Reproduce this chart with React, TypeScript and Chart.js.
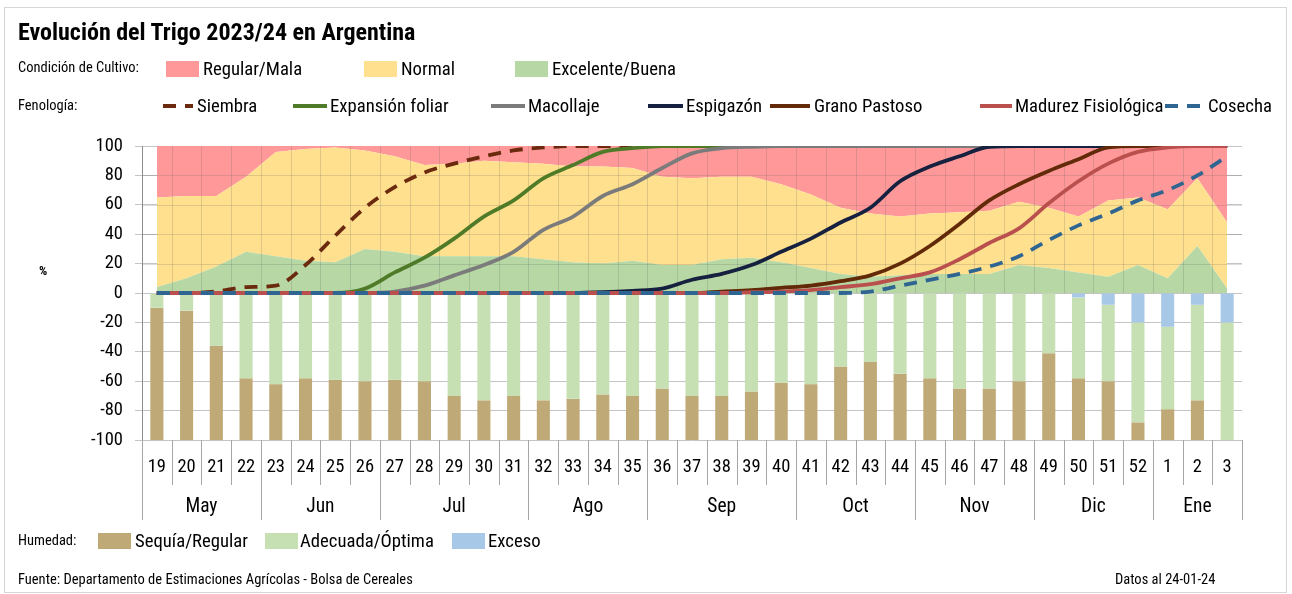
import React, { useEffect, useRef } from 'react';
import { Chart, registerables } from 'chart.js';
Chart.register(...registerables);

// ---------- DATA ----------
const weeks = ['19','20','21','22','23','24','25','26','27','28','29','30','31','32','33','34','35','36','37','38','39','40','41','42','43','44','45','46','47','48','49','50','51','52','1','2','3'];
const months = ['May','Jun','Jul','Ago','Sep','Oct','Nov','Dic','Ene'];
const monthSpans = [4,4,5,4,5,4,4,4,3];

// Condición de cultivo (%)
const excelenteBuena = [4,10,18,28,25,22,21,30,28,25,25,25,25,23,21,20,22,19,19,23,24,21,17,13,11,12,13,13,13,19,17,14,11,19,10,32,3];
const normal        = [61,56,48,51,71,76,78,67,65,62,63,65,64,65,65,66,63,60,59,56,55,53,50,45,43,40,41,42,43,43,41,38,52,46,47,46,45];
const regularMala   = [35,34,34,21,4,2,1,3,7,13,12,10,11,12,14,14,15,21,22,21,21,26,33,42,46,48,46,45,44,38,42,48,37,35,43,22,52];

// Fenología (% avance)
const siembra          = [0,0,1,4,5,19,39,58,72,82,88,93,97,99,100,100,100,100,100,100,100,100,100,100,100,100,100,100,100,100,100,100,100,100,100,100,100];
const expansionFoliar  = [0,0,0,0,0,0,0,3,14,24,37,52,63,78,87,96,98.5,100,100,100,100,100,100,100,100,100,100,100,100,100,100,100,100,100,100,100,100];
const macollaje        = [0,0,0,0,0,0,0,0,1,5,12,19,28,43,52,66,74,85,95,98.5,99.5,100,100,100,100,100,100,100,100,100,100,100,100,100,100,100,100];
const espigazon        = [0,0,0,0,0,0,0,0,0,0,0,0,0,0,0,0.5,1.5,3,9,13,19,28,37,48,58,76,86,93,99.5,100,100,100,100,100,100,100,100];
const granoPastoso     = [0,0,0,0,0,0,0,0,0,0,0,0,0,0,0,0,0,0,0,1,2,3.5,5,8,12,20,32,47,63,74,83,91,99,100,100,100,100];
const madurezFisiol    = [0,0,0,0,0,0,0,0,0,0,0,0,0,0,0,0,0,0,0,0,0.5,1,2,4,6,10,14,23,34,44,61,76,88,96,99,100,100];
const cosecha          = [0,0,0,0,0,0,0,0,0,0,0,0,0,0,0,0,0,0,0,0,0,0,0,0,1,5,9,13,18,25,36,46,54,63,70,80,93];

// Humedad (%)
const sequiaRegular  = [90,88,64,42,38,42,41,40,41,40,30,27,30,27,28,31,30,35,30,30,33,39,38,50,53,45,42,35,35,40,59,42,40,12,21,27,0];
const exceso         = [0,0,0,0,0,0,0,0,0,0,0,0,0,0,0,0,0,0,0,0,0,0,0,0,0,0,0,0,0,0,0,3,8,20,23,8,20];
const adecuadaOptima = sequiaRegular.map((s, i) => 100 - s - exceso[i]);

const yMin = -100;
const yMax = 100;
const yStep = 20;

// ---------- STYLE ----------
const FONT = "'Liberation Sans Narrow','Roboto Condensed',Roboto,'DejaVu Sans',sans-serif";
const C = {
  red: '#FF9999',
  yellow: '#FFE08E',
  green: '#B7D8A4',
  brown: '#BFAA77',
  lgreen: '#C6E0B4',
  blue: '#A8C8E8',
  siembra: '#6B2A0E',
  expansion: '#4F7B28',
  macollaje: '#7B7B7B',
  espigazon: '#16203F',
  grano: '#622A08',
  madurez: '#BA504E',
  cosecha: '#2E6591',
};

const Txt = ({ x, y, size, bold, children }: any) => (
  <div style={{ position: 'absolute', left: x, top: y, transform: 'translateY(-50%)', fontSize: size, fontWeight: bold ? 700 : 400, whiteSpace: 'nowrap', lineHeight: 1, fontFamily: FONT, color: '#000' }}>{children}</div>
);
const Swatch = ({ x, y, color }: any) => (
  <div style={{ position: 'absolute', left: x, top: y, width: 33, height: 16, background: color }} />
);
const LineSample = ({ x1, x2, y, color, dashed }: any) => (
  <svg style={{ position: 'absolute', left: x1, top: y - 4, overflow: 'visible' }} width={x2 - x1} height={8}>
    <line x1={0} y1={4} x2={x2 - x1} y2={4} stroke={color} strokeWidth={4} strokeDasharray={dashed ? '13 9' : undefined} />
  </svg>
);

const LEG = 18.7;
const SMALL = 14.5;

export default function App() {
  const ref = useRef<HTMLCanvasElement>(null);
  useEffect(() => {
    document.body.style.margin = '0';
    const n = weeks.length;

    const topGrid = {
      id: 'topGrid',
      afterDatasetDraw(chart: any, args: any) {
        if (args.index !== 0) return;
        const { ctx } = chart;
        const x = chart.scales.x, y = chart.scales.y;
        const y100 = y.getPixelForValue(100), y0 = y.getPixelForValue(0);
        const w = (x.right - x.left) / n;
        ctx.save();
        ctx.strokeStyle = 'rgba(90,90,90,0.2)';
        ctx.lineWidth = 1;
        ctx.beginPath();
        for (let i = 1; i < n; i++) {
          const px = Math.round(x.left + i * w) + 0.5;
          ctx.moveTo(px, y100); ctx.lineTo(px, y0);
        }
        for (let v = yStep; v < yMax; v += yStep) {
          const py = Math.round(y.getPixelForValue(v)) + 0.5;
          ctx.moveTo(x.left, py); ctx.lineTo(x.right, py);
        }
        ctx.stroke();
        ctx.restore();
      },
    };

    const xLabels = {
      id: 'xLabels',
      afterDraw(chart: any) {
        const { ctx } = chart;
        const x = chart.scales.x;
        const top = chart.chartArea.bottom;
        const w = (x.right - x.left) / n;
        const bounds = new Set<number>([0]);
        let cum = 0;
        monthSpans.forEach((s) => { cum += s; bounds.add(cum); });
        ctx.save();
        ctx.strokeStyle = '#a6a6a6';
        ctx.lineWidth = 1;
        ctx.beginPath();
        for (let i = 0; i <= n; i++) {
          const px = Math.round(x.left + i * w) + 0.5;
          ctx.moveTo(px, top);
          ctx.lineTo(px, top + (bounds.has(i) ? 80 : 45));
        }
        ctx.stroke();
        ctx.fillStyle = '#000';
        ctx.textAlign = 'center';
        ctx.textBaseline = 'middle';
        ctx.font = `18.5px ${FONT}`;
        weeks.forEach((wk, i) => ctx.fillText(wk, x.getPixelForValue(i), top + 27));
        ctx.font = `19.5px ${FONT}`;
        let start = 0;
        months.forEach((m, j) => {
          ctx.fillText(m, x.left + (start + monthSpans[j] / 2) * w, top + 67);
          start += monthSpans[j];
        });
        ctx.restore();
      },
    };

    const area = (label: string, data: number[], color: string, fill: any) => ({
      type: 'line', label, data, stack: 'cond', backgroundColor: color, borderColor: color,
      borderWidth: 0, pointRadius: 0, fill, tension: 0, order: 2,
    });
    const bar = (label: string, data: number[], color: string) => ({
      type: 'bar', label, data: data.map((v) => -v), stack: 'hum', backgroundColor: color,
      borderWidth: 0, barPercentage: 0.44, categoryPercentage: 1, order: 3,
    });
    const phen = (label: string, data: number[], color: string, i: number, dashed = false) => ({
      type: 'line', label, data, stack: 'l' + i, borderColor: color, backgroundColor: color,
      borderWidth: 3.8, borderDash: dashed ? [13, 9] : [], borderCapStyle: 'butt',
      pointRadius: 0, fill: false, cubicInterpolationMode: 'monotone', order: 1 - i * 0.01,
    });

    const chart = new Chart(ref.current as HTMLCanvasElement, {
      type: 'bar',
      data: {
        labels: weeks,
        datasets: [
          area('Excelente/Buena', excelenteBuena, C.green, 'origin'),
          area('Normal', normal, C.yellow, '-1'),
          area('Regular/Mala', regularMala, C.red, '-1'),
          bar('Exceso', exceso, C.blue),
          bar('Adecuada/Óptima', adecuadaOptima, C.lgreen),
          bar('Sequía/Regular', sequiaRegular, C.brown),
          phen('Siembra', siembra, C.siembra, 0, true),
          phen('Expansión foliar', expansionFoliar, C.expansion, 1),
          phen('Macollaje', macollaje, C.macollaje, 2),
          phen('Espigazón', espigazon, C.espigazon, 3),
          phen('Grano Pastoso', granoPastoso, C.grano, 4),
          phen('Madurez Fisiológica', madurezFisiol, C.madurez, 5),
          phen('Cosecha', cosecha, C.cosecha, 6, true),
        ] as any,
      },
      options: {
        responsive: false,
        animation: false,
        devicePixelRatio: 1,
        events: [],
        layout: { padding: { left: 0, top: 146, right: 50, bottom: 154 } },
        plugins: { legend: { display: false }, tooltip: { enabled: false } },
        scales: {
          x: {
            type: 'category', offset: true, stacked: true,
            grid: { display: false }, border: { display: false }, ticks: { display: false },
            afterFit: (s: any) => { s.height = 0; },
          },
          y: {
            stacked: true, min: yMin, max: yMax,
            ticks: { stepSize: yStep, color: '#000', font: { size: 18.5, family: FONT }, padding: 12 },
            grid: { color: '#c4c4c4', tickLength: 7 },
            border: { color: '#8c8c8c' },
            afterFit: (s: any) => { s.width = 142; },
          },
        } as any,
      },
      plugins: [topGrid, xLabels],
    } as any);
    return () => chart.destroy();
  }, []);

  return (
    <div style={{ position: 'relative', width: 1292, height: 594, background: '#fff', overflow: 'hidden', fontFamily: FONT }}>
      <div style={{ position: 'absolute', left: 4, top: 7, width: 1281, height: 584, border: '1px solid #d6d6d6' }} />
      <canvas ref={ref} width={1292} height={594} style={{ position: 'absolute', left: 0, top: 0, width: 1292, height: 594 }} />
      <Txt x={18} y={32} size={24} bold>Evolución del Trigo 2023/24 en Argentina</Txt>

      <Txt x={18} y={68} size={SMALL}>Condición de Cultivo:</Txt>
      <Swatch x={166} y={61} color={C.red} />
      <Txt x={203} y={69} size={LEG}>Regular/Mala</Txt>
      <Swatch x={364} y={61} color={C.yellow} />
      <Txt x={401} y={69} size={LEG}>Normal</Txt>
      <Swatch x={515} y={61} color={C.green} />
      <Txt x={552} y={69} size={LEG}>Excelente/Buena</Txt>

      <Txt x={18} y={106} size={SMALL}>Fenología:</Txt>
      <LineSample x1={163} x2={193} y={106} color={C.siembra} dashed />
      <Txt x={197} y={106} size={LEG}>Siembra</Txt>
      <LineSample x1={293} x2={327} y={106} color={C.expansion} />
      <Txt x={330} y={106} size={LEG}>Expansión foliar</Txt>
      <LineSample x1={491} x2={525} y={106} color={C.macollaje} />
      <Txt x={528} y={106} size={LEG}>Macollaje</Txt>
      <LineSample x1={648} x2={683} y={106} color={C.espigazon} />
      <Txt x={686} y={106} size={LEG}>Espigazón</Txt>
      <LineSample x1={770} x2={810} y={106} color={C.grano} />
      <Txt x={814} y={106} size={LEG}>Grano Pastoso</Txt>
      <LineSample x1={980} x2={1012} y={106} color={C.madurez} />
      <Txt x={1015} y={106} size={LEG}>Madurez Fisiológica</Txt>
      <LineSample x1={1165} x2={1205} y={106} color={C.cosecha} dashed />
      <Txt x={1208} y={106} size={LEG}>Cosecha</Txt>

      <Txt x={39} y={270} size={13} bold>%</Txt>

      <Txt x={18} y={541} size={SMALL}>Humedad:</Txt>
      <Swatch x={98} y={533} color={C.brown} />
      <Txt x={135} y={541} size={LEG}>Sequía/Regular</Txt>
      <Swatch x={265} y={533} color={C.lgreen} />
      <Txt x={300} y={541} size={LEG}>Adecuada/Óptima</Txt>
      <Swatch x={452} y={533} color={C.blue} />
      <Txt x={488} y={541} size={LEG}>Exceso</Txt>

      <Txt x={18} y={580} size={SMALL}>Fuente: Departamento de Estimaciones Agrícolas - Bolsa de Cereales</Txt>
      <Txt x={1115} y={580} size={SMALL}>Datos al 24-01-24</Txt>
    </div>
  );
}
